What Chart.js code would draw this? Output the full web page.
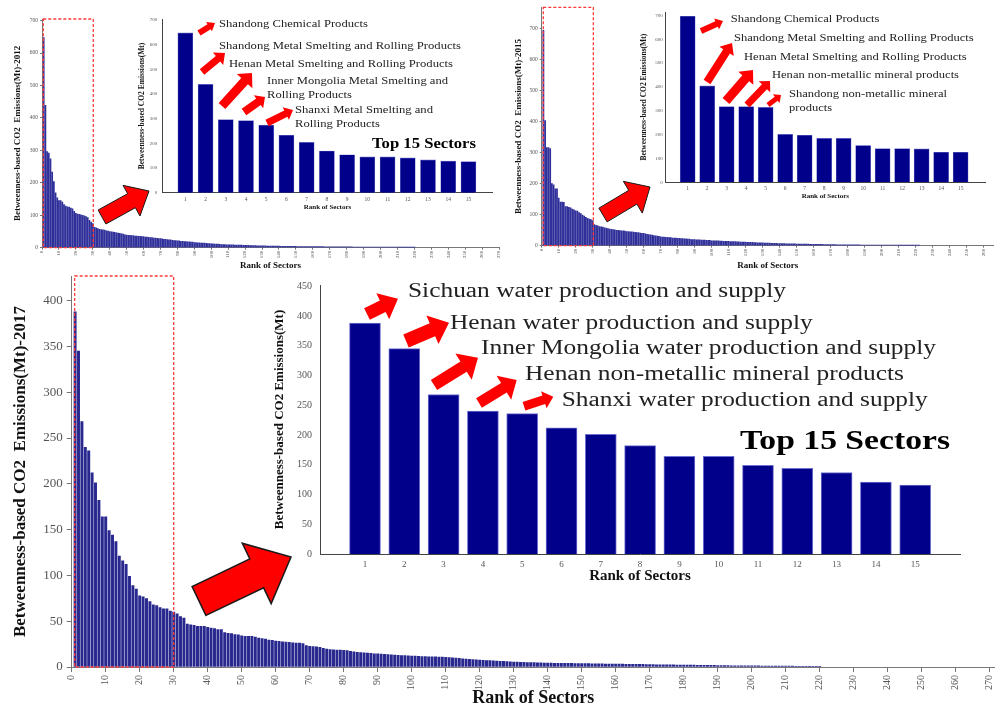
<!DOCTYPE html>
<html><head><meta charset="utf-8">
<script src="https://cdn.jsdelivr.net/npm/chart.js@4.4.0/dist/chart.umd.min.js"></script>
<style>
html,body{margin:0;padding:0;background:#fff;}
#wrap{position:relative;width:995px;height:708px;overflow:hidden;background:#fff;}
canvas{position:absolute;}
</style></head><body>
<div id="wrap">
<canvas id="main2012"></canvas>
<canvas id="main2015"></canvas>
<canvas id="main2017"></canvas>
<canvas id="inset2012"></canvas>
<canvas id="inset2015"></canvas>
<canvas id="inset2017"></canvas>
</div>
<script>
// ---------------- DATA ----------------
const top15Ranks = [1,2,3,4,5,6,7,8,9,10,11,12,13,14,15];
const mainRankTicks2012 = [0,10,20,30,40,50,60,70,80,90,100,110,120,130,140,150,160,170,180,190,200,210,220,230,240,250,260,270];
const mainRankTicks2015 = [0,10,20,30,40,50,60,70,80,90,100,110,120,130,140,150,160,170,180,190,200,210,220,230,240,250,260];
const mainRankTicks2017 = [0,10,20,30,40,50,60,70,80,90,100,110,120,130,140,150,160,170,180,190,200,210,220,230,240,250,260,270];
const valueTicks700 = [0,100,200,300,400,500,600,700];
const valueTicks2017 = [0,50,100,150,200,250,300,350,400];
const insetTicks2017 = [0,50,100,150,200,250,300,350,400,450];

const top15_2012 = [648,439,296,292,274,233,204,169,154,145,145,141,133,128,126];
const rest2012 = [125,122,120,112,106,104,103,101,100,98,96,93,84,79,74,
 63,61,59,57,56,55,54,52,51,50,
 49,48,47,46,45,44,43,42,40,39,
 38,38,37,37,36,36,35,35,34,34,
 33,33,32,31,31,30,30,29,28,28,
 27,26,26,25,24,24,23,22,22,21,
 21,20,20,19,19,18,18,17,17,16,
 16,15,15,14.5,14,14,13.5,13,12.5,12,
 12,11.5,11,11,10.5,10,10,9.5,9,9,
 9,8.8,8.6,8.4,8.2,8,8,7.8,7.6,7.4,
 7.2,7,6.8,6.6,6.4,6.2,6,6,5.8,5.6,
 5.5,5.4,5.3,5.2,5.1,5,5,4.9,4.8,4.7,
 4.6,4.5,4.4,4.3,4.2,4.1,4,4,3.9,3.9,
 3.8,3.8,3.7,3.7,3.6,3.6,3.5,3.5,3.4,3.4,
 3.3,3.3,3.2,3.2,3.1,3.1,3,3,3,2.9,
 2.9,2.8,2.8,2.7,2.7,2.6,2.6,2.5,2.5,2.4,
 2.4,2.3,2.3,2.2,2.2,2.1,2.1,2,2,2,
 1.9,1.9,1.8,1.8,1.8,1.7,1.7,1.7,1.6,1.6,
 1.6,1.5,1.5,1.5,1.4,1.4,1.4,1.3,1.3,1.3,
 1.2,1.2,1.2,1.1,1.1,1.1,1,1,0.9,0.8];

const top15_2015 = [696,404,317,317,314,201,197,184,184,154,141,141,140,126,126];
const rest2015 = [124,122,118,116,113,112,107,104,99,96,92,88,86,84,81,
 68,66,64,62,61,60,58,57,55,54,
 53,52,51,50,50,49,48,48,47,46,
 46,45,45,44,43,42,42,41,40,40,
 38,37,36,35,34,33,32,31,30,29,
 28,28,27,27,26,26,25,25,25,24,
 24,23,23,22,22,21,21,20,20,20,
 19,19,19,18,18,18,17,17,17,16,
 16,16,15.5,15.5,15,15,14.5,14.5,14,14,
 13.5,13.5,13,13,12.5,12.5,12,12,11.5,11.5,
 11,11,10.5,10.5,10,10,9.5,9.5,9,9,
 8.8,8.6,8.4,8.2,8,7.8,7.6,7.4,7.2,7,
 6.8,6.6,6.5,6.4,6.2,6,5.9,5.8,5.7,5.6,
 5.5,5.4,5.3,5.2,5.1,5,4.9,4.8,4.7,4.6,
 4.5,4.4,4.3,4.2,4.1,4,3.9,3.8,3.7,3.6,
 3.5,3.4,3.3,3.2,3.1,3,3,2.9,2.9,2.8,
 2.8,2.7,2.7,2.6,2.6,2.5,2.5,2.4,2.4,2.3,
 2.3,2.2,2.2,2.1,2.1,2,2,1.9,1.9,1.8,
 1.8,1.7,1.7,1.6,1.6,1.5,1.5,1.4,1.4,1.3,
 1.3,1.3,1.2,1.2,1.1,1.1,1,1,0.9,0.9,0.8,0.8];

const top15_2017 = [388,345,268,240,236,212,201,182,164,164,149,144,137,121,116];
const rest2017 = [112,99,89,85,77.6,76.5,74.7,71.4,68,67,64.8,63.4,63.4,61,60,
 58,55,53.5,47,46,45.5,44.4,44.4,44.4,43.4,
 42.6,42,41,41,37.5,36.8,36.4,35.3,35,34,
 33.5,33.5,33.5,32.8,31.7,31,30.6,29.5,29,28.4,
 28,27.5,27.3,27,26.5,26.2,26,25.5,23.3,22.6,
 22.2,22,21.5,20.5,19.5,19,18.8,18.5,18.4,18.2,
 18,17,16.5,16,15.7,15.5,15.3,15,14.5,14.3,
 14,13.8,13.5,13.3,13,12.8,12.6,12.4,12.2,12,
 11.8,11.7,11.5,11.4,11.2,11.1,11,10.8,10.7,10.5,
 10.3,10,9.7,9.4,9,8.7,8.4,8.1,7.8,7.5,
 7.3,7.1,6.9,6.7,6.5,6.3,6.1,5.9,5.7,5.5,
 5.3,5.1,5,4.9,4.8,4.7,4.6,4.5,4.4,4.3,
 4.2,4.1,4.1,4,4,3.9,3.9,3.8,3.8,3.7,
 3.6,3.6,3.5,3.5,3.4,3.4,3.3,3.3,3.2,3.2,
 3.1,3.1,3,3,2.9,2.9,2.8,2.8,2.7,2.7,
 2.6,2.5,2.5,2.4,2.4,2.3,2.3,2.2,2.2,2.1,
 2.1,2,2,1.9,1.9,1.8,1.8,1.7,1.7,1.6,
 1.6,1.5,1.5,1.4,1.4,1.4,1.3,1.3,1.3,1.2,
 1.2,1.2,1.1,1.1,1.1,1,1,1,0.9,0.9,
 0.9,0.9,0.8,0.8,0.8,0.8,0.7,0.7,0.7,0.6];

const topNames2012 = ['Shandong Chemical Products','Shandong Metal Smelting and Rolling Products','Henan Metal Smelting and Rolling Products','Inner Mongolia Metal Smelting and','Rolling Products','Shanxi Metal Smelting and','Rolling Products'];
const topNames2015 = ['Shandong Chemical Products','Shandong Metal Smelting and Rolling Products','Henan Metal Smelting and Rolling Products','Henan non-metallic mineral products','Shandong non-metallic mineral','products'];
const topNames2017 = ['Sichuan water production and supply','Henan water production and supply','Inner Mongolia water production and supply','Henan non-metallic mineral products','Shanxi water production and supply'];

// ---------------- LAYOUT / STYLE ----------------
const FONT = '"Liberation Serif", "Times New Roman", serif';
const L = {
  main2012:  {canvas:[0,0,503,272],   area:[42,19,499,247.7],    x:[0,270],        yMax:705},
  inset2012: {canvas:[132,10,365,205],area:[162.3,19.3,492.7,192.7], x:[-0.14,16.2], yMax:703},
  main2015:  {canvas:[503,0,492,272], area:[541.7,7.3,993.6,245.7], x:[0,266],      yMax:770},
  inset2015: {canvas:[630,5,360,200], area:[665.7,12,985,182.3],  x:[-0.128,16.25], yMax:714},
  main2017:  {canvas:[0,268,995,440], area:[71.7,276,994.8,667],  x:[0,271.5],     yMax:427},
  inset2017: {canvas:[255,278,715,310],area:[320,285,960,554],    x:[-0.145,16.14], yMax:452}
};
const mainStyle = (o) => Object.assign({bar:'#30309a', border:'#30309a', bw:0, thick:1.1, tickColor:'#555', axisColor:'#777',
  marks:true, tickLen:2, yTick:5.5, xTick:5, yPad:2, xPad:1, xRot:90}, o);
const insetStyle = (o) => Object.assign({bar:'#00008b', border:'#6f6fc8', bw:0.6, thick:15, tickColor:'#555', axisColor:'#444',
  marks:false, tickLen:0, yTick:5, xTick:5.5, yPad:5, xPad:3.5, xRot:0}, o);

const DECOR = {
  main2012: {rect:[0.77,30.3], arrows:[{tail:[102,217], tip:[149,191], w:16, hw:35, hl:20, stroke:1}]},
  main2015: {rect:[0.94,30.4], arrows:[{tail:[603,215], tip:[650,187], w:16, hw:37, hl:20, stroke:1}]},
  main2017: {rect:[0.88,30], arrows:[{tail:[199,601], tip:[291,557], w:32, hw:67, hl:38, stroke:1.5}]},
  inset2012: {
    arrows:[{tail:[199,33], tip:[215,23], w:6, hw:11, hl:7},
            {tail:[202,72], tip:[225,53], w:7, hw:16, hl:9},
            {tail:[222,106], tip:[252,73], w:9, hw:21, hl:11},
            {tail:[244,112], tip:[265,97], w:8, hw:16, hl:8},
            {tail:[267,123], tip:[293,110], w:7, hw:14, hl:8}],
    texts:[{t:topNames2012[0], x:219, y:23.7, w:149, s:11},
           {t:topNames2012[1], x:219, y:46, w:242, s:11},
           {t:topNames2012[2], x:229, y:64, w:224, s:11},
           {t:topNames2012[3], x:267, y:81, w:181, s:11},
           {t:topNames2012[4], x:267, y:95, w:85, s:11},
           {t:topNames2012[5], x:295, y:110, w:138, s:11},
           {t:topNames2012[6], x:295, y:124, w:85, s:11},
           {t:'Top 15 Sectors', x:372, y:144, w:104, s:15, b:true}]
  },
  inset2015: {
    arrows:[{tail:[701,31], tip:[723,21], w:6, hw:12, hl:7},
            {tail:[707,82], tip:[732,43], w:8, hw:17, hl:10},
            {tail:[726,101], tip:[753,70], w:9, hw:20, hl:11},
            {tail:[747,105], tip:[770,81], w:7, hw:16, hl:8},
            {tail:[768,105], tip:[781,95], w:5, hw:11, hl:6}],
    texts:[{t:topNames2015[0], x:730.7, y:19, w:148.7, s:11},
           {t:topNames2015[1], x:734, y:38, w:239.7, s:11},
           {t:topNames2015[2], x:744, y:56.7, w:222.7, s:11},
           {t:topNames2015[3], x:772, y:75, w:187, s:11},
           {t:topNames2015[4], x:789, y:94, w:158, s:11},
           {t:topNames2015[5], x:789, y:108, w:43, s:11}]
  },
  inset2017: {
    arrows:[{tail:[367,314], tip:[398,298.7], w:13, hw:29, hl:17},
            {tail:[406,341], tip:[449,322.7], w:14, hw:31, hl:18},
            {tail:[434,385], tip:[478,357.7], w:12, hw:31, hl:17},
            {tail:[479,403], tip:[516.7,380], w:11, hw:28, hl:15},
            {tail:[524,406.3], tip:[553.3,396.7], w:9, hw:18, hl:10}],
    texts:[{t:topNames2017[0], x:408, y:291.7, w:378, s:20},
           {t:topNames2017[1], x:450, y:323.3, w:362.7, s:20},
           {t:topNames2017[2], x:481, y:349, w:455, s:20},
           {t:topNames2017[3], x:525, y:375, w:379, s:20},
           {t:topNames2017[4], x:561.7, y:400.7, w:366, s:20},
           {t:'Top 15 Sectors', x:740, y:442, w:210, s:27, b:true}]
  }
};

// ---------------- DRAWING ----------------
function drawArrow(ctx, a) {
  const [x0,y0] = a.tail, [x1,y1] = a.tip;
  const dx = x1-x0, dy = y1-y0, len = Math.hypot(dx,dy);
  const ux = dx/len, uy = dy/len, nx = -uy, ny = ux;
  const bx = x1-ux*a.hl, by = y1-uy*a.hl, w = a.w/2, h = a.hw/2;
  ctx.beginPath();
  ctx.moveTo(x0+nx*w, y0+ny*w);
  ctx.lineTo(bx+nx*w, by+ny*w);
  ctx.lineTo(bx+nx*h, by+ny*h);
  ctx.lineTo(x1, y1);
  ctx.lineTo(bx-nx*h, by-ny*h);
  ctx.lineTo(bx-nx*w, by-ny*w);
  ctx.lineTo(x0-nx*w, y0-ny*w);
  ctx.closePath();
  ctx.fillStyle = '#ff0000';
  ctx.fill();
  if (a.stroke) { ctx.lineWidth = a.stroke; ctx.strokeStyle = '#1a1a1a'; ctx.lineJoin = 'miter'; ctx.stroke(); }
}
function drawText(ctx, t) {
  ctx.save();
  ctx.font = (t.b ? 'bold ' : '') + t.s + 'px ' + FONT;
  ctx.textBaseline = 'middle';
  ctx.textAlign = 'left';
  ctx.fillStyle = t.b ? '#000' : '#222';
  const m = ctx.measureText(t.t).width;
  ctx.translate(t.x, t.y);
  ctx.scale(t.w / m, 1);
  ctx.fillText(t.t, 0, 0);
  ctx.restore();
}
const decorPlugin = {
  id: 'decor',
  afterDraw(chart) {
    const id = chart.canvas.id, d = DECOR[id];
    if (!d) return;
    const ctx = chart.ctx, lay = L[id];
    ctx.save();
    if (d.rect) {
      const xs = chart.scales.x, ys = chart.scales.y;
      const x0 = xs.getPixelForValue(d.rect[0]), x1 = xs.getPixelForValue(d.rect[1]);
      const yT = chart.chartArea.top, yB = ys.getPixelForValue(0);
      ctx.setLineDash([3,2]);
      ctx.strokeStyle = '#ff3b3b';
      ctx.lineWidth = 1.3;
      ctx.strokeRect(x0, yT, x1-x0, yB-yT);
      ctx.setLineDash([]);
    }
    ctx.translate(-lay.canvas[0], -lay.canvas[1]);
    (d.arrows||[]).forEach(a => drawArrow(ctx, a));
    (d.texts||[]).forEach(t => drawText(ctx, t));
    ctx.restore();
  }
};

function build(id, values, xTicks, yTicks, st, yTitle, t) {
  const lay = L[id];
  const [cl,ct,cw,ch] = lay.canvas, [al,at,ar,ab] = lay.area;
  const cv = document.getElementById(id);
  cv.width = cw; cv.height = ch;
  cv.style.left = cl+'px'; cv.style.top = ct+'px';
  cv.style.width = cw+'px'; cv.style.height = ch+'px';
  const pts = values.map((v,i) => ({x: i+1, y: v}));
  const grid = st.marks ? {display:true, drawOnChartArea:false, drawTicks:true, tickLength:st.tickLen, color:st.axisColor, offset:false}
                        : {display:false, drawOnChartArea:false, drawTicks:false, tickLength:0, offset:false};
  return new Chart(cv, {
    type: 'bar',
    data: {datasets: [{data: pts, backgroundColor: st.bar, borderColor: st.border, borderWidth: st.bw,
                       barThickness: st.thick, borderSkipped: 'bottom'}]},
    options: {
      responsive: false, animation: false, devicePixelRatio: 1,
      layout: {padding: {left:0, top: at-ct, right: cl+cw-ar, bottom:0}},
      plugins: {legend:{display:false}, tooltip:{enabled:false}},
      scales: {
        x: {type:'linear', min: lay.x[0], max: lay.x[1], offset:false,
            afterBuildTicks: s => { s.ticks = xTicks.map(v => ({value:v})); },
            afterFit: s => { s.height = ct+ch-ab; s.paddingLeft = 0; s.paddingRight = 0; },
            ticks: {autoSkip:false, minRotation:st.xRot, maxRotation:st.xRot, padding:st.xPad, color:st.tickColor,
                    font:{family:FONT, size:st.xTick}, callback: v => String(v)},
            grid: grid, border: {display:true, color:st.axisColor, width:1},
            title: {display:true, text:'Rank of Sectors', color:'#111',
                    font:{family:FONT, size:t.xs, weight:'bold', lineHeight:1}, padding:{top:0, bottom:t.xp}}},
        y: {type:'linear', min:0, max: lay.yMax,
            afterBuildTicks: s => { s.ticks = yTicks.map(v => ({value:v})); },
            afterFit: s => { s.width = al-cl; s.paddingTop = 0; s.paddingBottom = 0; },
            ticks: {padding:st.yPad, color:st.tickColor, font:{family:FONT, size:st.yTick}, callback: v => String(v)},
            grid: grid, border: {display:true, color:st.axisColor, width:1},
            title: {display:true, text:yTitle, color:'#111',
                    font:{family:FONT, size:t.ys, weight:'bold', lineHeight:1}, padding:{top:t.yp, bottom:0}}}
      }
    },
    plugins: [decorPlugin]
  });
}

const main12 = top15_2012.concat(rest2012);
const main15 = top15_2015.concat(rest2015);
const main17 = top15_2017.concat(rest2017);

build('main2012', main12, mainRankTicks2012, valueTicks700, mainStyle({}),
      'Betweenness-based CO2  Emissions(Mt)-2012', {xs:9, xp:1.5, ys:9, yp:13.5});
build('main2015', main15, mainRankTicks2015, valueTicks700, mainStyle({}),
      'Betweenness-based CO2  Emissions(Mt)-2015', {xs:9, xp:1.5, ys:9, yp:10.8});
build('main2017', main17, mainRankTicks2017, valueTicks2017,
      mainStyle({bar:'#28288f', border:'#28288f', thick:2.3, tickLen:5, yTick:13, xTick:10, yPad:4, xPad:3}),
      'Betweenness-based CO2  Emissions(Mt)-2017', {xs:18, xp:1, ys:17, yp:12.5});
build('inset2012', top15_2012, top15Ranks, valueTicks700, insetStyle({}),
      'Betweenness-based CO2 Emissions(Mt)', {xs:7, xp:4.8, ys:7.5, yp:5.95});
build('inset2015', top15_2015, top15Ranks, valueTicks700, insetStyle({yPad:3, xPad:3}),
      'Betweenness-based CO2 Emissions(Mt)', {xs:7, xp:5.5, ys:7.5, yp:10.25});
build('inset2017', top15_2017, top15Ranks, insetTicks2017,
      insetStyle({thick:31, bw:1, border:'#7070d0', yTick:10, xTick:9, yPad:8, xPad:5}),
      'Betweenness-based CO2 Emissions(Mt)', {xs:15, xp:4.8, ys:13, yp:18.5});
</script>
</body></html>
